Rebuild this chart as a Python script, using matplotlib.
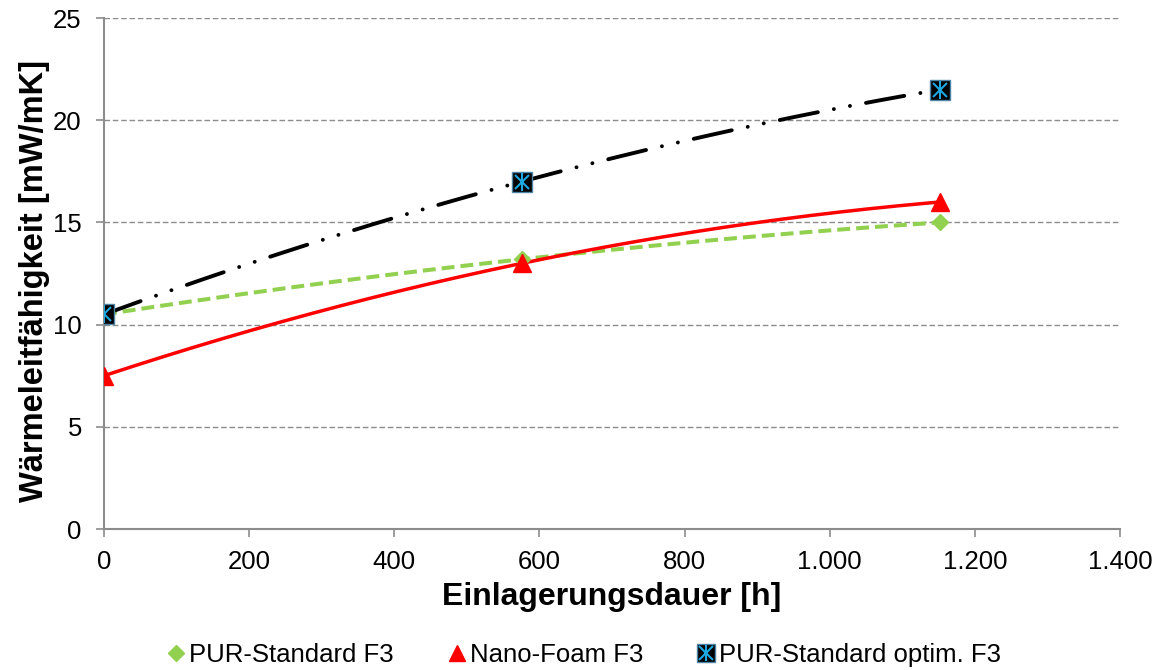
import numpy as np
import matplotlib.pyplot as plt
from matplotlib.lines import Line2D
from matplotlib.ticker import FuncFormatter

plt.rcParams['font.family'] = ['Liberation Sans', 'DejaVu Sans']

# Einlagerungsdauer [h] und Waermeleitfaehigkeit [mW/mK]
dauer = [0, 576, 1152]
pur_standard = [10.5, 13.2, 15.0]
nano_foam = [7.5, 13.0, 16.0]
pur_optim = [10.5, 17.0, 21.5]

labels = ['PUR-Standard F3', 'Nano-Foam F3', 'PUR-Standard optim. F3']


def smooth(x, y, n=200):
    # glatte Kurve exakt durch die Messpunkte
    c = np.polyfit(x, y, len(x) - 1)
    xs = np.linspace(min(x), max(x), n)
    return xs, np.polyval(c, xs)


fig = plt.figure(figsize=(11.61, 6.70), dpi=100)
ax = fig.add_axes([0.0896, 0.2104, 0.8751, 0.7627])

green = '#92d050'
red = '#ff0000'
blue = '#1ea7e1'

sx, sy = smooth(dauer, pur_standard)
ax.plot(sx, sy, color=green, lw=2.9, dashes=(3.2, 1.5), zorder=3)
ax.plot(dauer, pur_standard, ls='none', marker='D', ms=8.5, color=green, zorder=4)

sx, sy = smooth(dauer, nano_foam)
ax.plot(sx, sy, color=red, lw=2.5, zorder=3)
ax.plot(dauer, nano_foam, ls='none', marker='^', ms=13, color=red, zorder=4)

sx, sy = smooth(dauer, pur_optim)
ax.plot(sx, sy, color='black', lw=2.8, dashes=(10, 4.2, 0.01, 4.2, 0.01, 4.2),
        dash_capstyle='round', zorder=3)
ax.plot(dauer, pur_optim, ls='none', marker='s', ms=14, mfc='black', mec='#4f86a8', mew=1, zorder=5)
ax.plot(dauer, pur_optim, ls='none', marker='x', ms=10.5, mec=blue, mew=1.5, zorder=6)
ax.plot(dauer, pur_optim, ls='none', marker='|', ms=13, mec=blue, mew=1.5, zorder=6)

ax.set_xlim(0, 1400)
ax.set_ylim(0, 25)
ax.set_xticks(np.arange(0, 1401, 200))
ax.set_yticks(np.arange(0, 26, 5))
ax.xaxis.set_major_formatter(FuncFormatter(lambda v, p: f'{int(v):,}'.replace(',', '.')))

ax.yaxis.grid(True, color='#8c8c8c', ls=(0, (4, 2)), lw=1)
ax.set_axisbelow(True)
for s in ['top', 'right']:
    ax.spines[s].set_visible(False)
for s in ['left', 'bottom']:
    ax.spines[s].set_color('#8c8c8c')
    ax.spines[s].set_linewidth(1.5)
ax.tick_params(axis='both', colors='#8c8c8c', labelcolor='black', labelsize=18.5,
               length=6, width=1.2, direction='out')
ax.tick_params(axis='y', pad=10)
ax.tick_params(axis='x', pad=9)

ax.set_xlabel('Einlagerungsdauer [h]', fontsize=23, fontweight='bold', labelpad=6)
ax.set_ylabel('Wärmeleitfähigkeit [mW/mK]', fontsize=23.5, fontweight='bold')
ax.yaxis.set_label_coords(-0.053, 0.485)

h1 = Line2D([], [], ls='none', marker='D', ms=8.5, color=green)
h2 = Line2D([], [], ls='none', marker='^', ms=12, color=red)
h3a = Line2D([], [], ls='none', marker='s', ms=12.5, mfc='black', mec='#4f86a8')
h3b = Line2D([], [], ls='none', marker='x', ms=9.5, mec=blue, mew=1.5)
h3c = Line2D([], [], ls='none', marker='|', ms=11.5, mec=blue, mew=1.5)
fig.legend([h1, h2, (h3a, h3b, h3c)], labels, loc='center', bbox_to_anchor=(0.503, 0.022),
           ncol=3, frameon=False, fontsize=18.5, handlelength=0.7, handletextpad=0.15,
           columnspacing=2.1)

fig.savefig('out.png', dpi=100)
